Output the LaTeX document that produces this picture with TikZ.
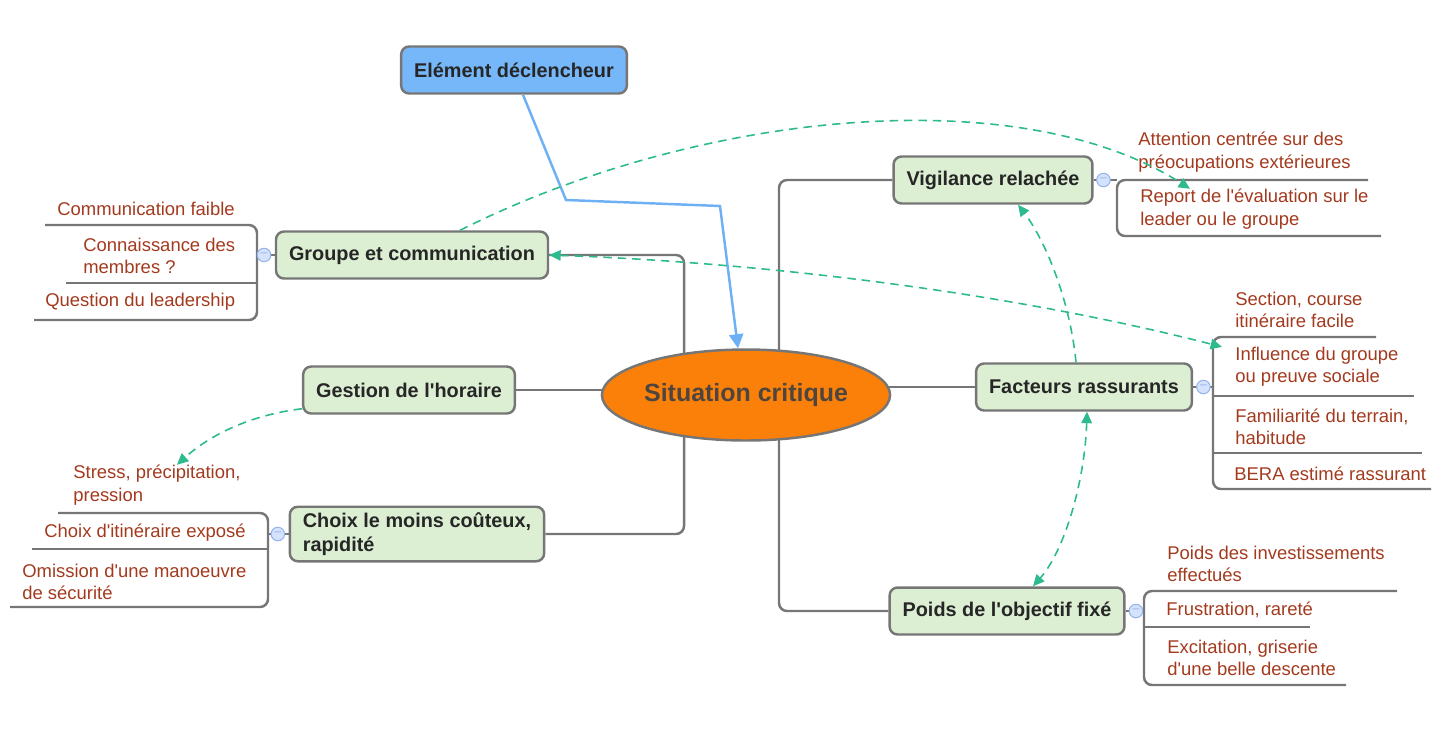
\documentclass[tikz,border=0pt]{standalone}
\usepackage{fontspec}
\setmainfont{Liberation Sans}
\usepackage{tikz}
\usetikzlibrary{shapes.geometric, arrows, arrows.meta, positioning, calc, backgrounds}
\usepackage{xcolor}
\definecolor{boxgreen}{RGB}{220,239,211}
\definecolor{boxline}{RGB}{118,118,118}
\definecolor{trigblue}{RGB}{118,183,250}
\definecolor{linkblue}{RGB}{110,176,245}
\definecolor{critorange}{RGB}{250,128,10}
\definecolor{crittext}{RGB}{78,70,62}
\definecolor{leafred}{RGB}{163,58,30}
\definecolor{dashgreen}{RGB}{44,186,142}
\definecolor{foldblue}{RGB}{212,226,252}
\definecolor{foldline}{RGB}{150,180,235}
\definecolor{inktext}{RGB}{38,38,38}
\newcommand{\q}{\textquotesingle}

\begin{document}
\begin{tikzpicture}[
    x=0.02cm, y=-0.02cm,
    topic/.style={rectangle, rounded corners=0.16cm, draw=boxline, line width=1.4pt, fill=boxgreen, minimum height=0.94cm, inner xsep=0.26cm, align=left, text=inktext, font=\bfseries\fontsize{11.3}{13.6}\selectfont},
    trigger/.style={topic, fill=trigblue},
    central/.style={ellipse, draw=boxline, line width=1.4pt, fill=critorange, minimum width=5.66cm, minimum height=1.82cm, inner sep=0pt, text=crittext, font=\bfseries\fontsize{14.2}{16}\selectfont},
    leaf/.style={anchor=west, inner sep=0pt, align=left, text=leafred, font=\fontsize{10.5}{12.7}\selectfont},
    fold/.style={circle, draw=foldline, fill=foldblue, line width=0.6pt, minimum size=0.27cm, inner sep=0pt, text=foldline, font=\scriptsize},
    branch/.style={draw=boxline, line width=1.4pt, rounded corners=0.16cm},
    relation/.style={draw=dashgreen, line width=0.9pt, dash pattern=on 4.8pt off 3.4pt, >={Triangle[length=6.5pt, width=6pt]}},
    link/.style={draw=linkblue, line width=1.4pt, -{Triangle[length=8pt, width=8pt]}}
]
    \useasboundingbox (0,0) rectangle (1456,745);

    % Central idea and topics
    \node[central] (sc) at (746,395) {Situation critique};
    \node[trigger] (el) at (514,70) {Elément déclencheur};
    \node[topic] (gc) at (412,255) {Groupe et communication};
    \node[topic] (gh) at (409,390) {Gestion de l\q horaire};
    \node[topic] (ch) at (417,534) {Choix le moins coûteux,\\rapidité};
    \node[topic] (vr) at (993,180) {Vigilance relachée};
    \node[topic] (fr) at (1084,387) {Facteurs rassurants};
    \node[topic] (po) at (1007,611) {Poids de l\q objectif fixé};

    % Leaves
    \node[leaf] (gc1) at (57,209) {Communication faible};
    \node[leaf] (gc2) at (83,256) {Connaissance des\\membres ?};
    \node[leaf] (gc3) at (45,302) {Question du leadership};
    \node[leaf] (vr1) at (1138,152) {Attention centrée sur des\\préocupations extérieures};
    \node[leaf] (vr2) at (1140,209) {Report de l\q évaluation sur le\\leader ou le groupe};
    \node[leaf] (fr1) at (1235,310) {Section, course\\itinéraire facile};
    \node[leaf] (fr2) at (1235,367) {Influence du groupe\\ou preuve sociale};
    \node[leaf] (fr3) at (1235,427) {Familiarité du terrain,\\habitude};
    \node[leaf] (fr4) at (1234,474) {BERA estimé rassurant};
    \node[leaf] (po1) at (1167,564) {Poids des investissements\\effectués};
    \node[leaf] (po2) at (1166,610) {Frustration, rareté};
    \node[leaf] (po3) at (1167,658) {Excitation, griserie\\d\q une belle descente};
    \node[leaf] (ch1) at (73,485) {Stress, précipitation,\\pression};
    \node[leaf] (ch2) at (44,533) {Choix d\q itinéraire exposé};
    \node[leaf] (ch3) at (22,582) {Omission d\q une manoeuvre\\de sécurité};

    % Branches behind the nodes
    \begin{scope}[on background layer]
        \draw[branch] ([xshift=-1.24cm]sc.center) |- (gc.east);
        \draw[branch] ([xshift=-1.24cm]sc.center) |- (ch.east);
        \draw[branch] ([xshift=0.66cm]sc.center) |- (vr.west);
        \draw[branch] ([xshift=0.66cm]sc.center) |- (po.west);
        \draw[branch] (gh.east) -- (sc.center |- gh.east);
        \draw[branch] (fr.west) -- (sc.center |- fr.west);
        \draw[branch] (gc.west) -- (257,255);
        \draw[branch] (ch.west) -- (268,534);
        \draw[branch] (vr.east) -- (1117,180);
        \draw[branch] (fr.east) -- (1213,387);
        \draw[branch] (po.east) -- (1144,611);
    \end{scope}

    % Brackets under the leaves
    \draw[branch] (45,225) -| (257,320) -- (34,320);
    \draw[branch] (66,283) -- (257,283);
    \draw[branch] (58,513) -| (268,607) -- (10,607);
    \draw[branch] (32,549) -- (268,549);
    \draw[branch] (1368,180) -| (1117,236) -- (1381,236);
    \draw[branch] (1376,337) -| (1213,489) -- (1431,489);
    \draw[branch] (1213,396) -- (1414,396);
    \draw[branch] (1213,453) -- (1422,453);
    \draw[branch] (1397,591) -| (1144,685) -- (1346,685);
    \draw[branch] (1144,627) -- (1310,627);

    % Fold buttons
    \node[fold, left=0.07cm of gc] (gcf) {--};
    \node[fold, left=0.07cm of ch] (chf) {--};
    \node[fold, right=0.05cm of vr] (vrf) {--};
    \node[fold, right=0.06cm of fr] (frf) {--};
    \node[fold, right=0.06cm of po] (pof) {--};

    % Trigger
    \draw[link] ([xshift=0.18cm]el.south) -- (566,200) -- (720,206) -- ([xshift=-0.16cm]sc.north);

    % Relations
    \draw[relation, ->] ([xshift=0.96cm]gc.north) .. controls (700,110) and (1020,80) .. ([xshift=1cm]vr2.north west);
    \draw[relation, <->] (gc.east) .. controls (750,262) and (1000,290) .. ([xshift=-0.26cm]fr2.north west);
    \draw[relation, ->] ([xshift=-0.16cm]fr.north) .. controls (1070,300) and (1045,240) .. ([xshift=0.5cm]vr.south);
    \draw[relation, <->] ([xshift=0.06cm]fr.south) .. controls (1085,480) and (1065,550) .. ([xshift=0.52cm]po.north);
    \draw[relation, ->] ([yshift=0.12cm]gh.south west) .. controls (250,415) and (210,435) .. ([xshift=0.4cm]ch1.north);
\end{tikzpicture}
\end{document}
